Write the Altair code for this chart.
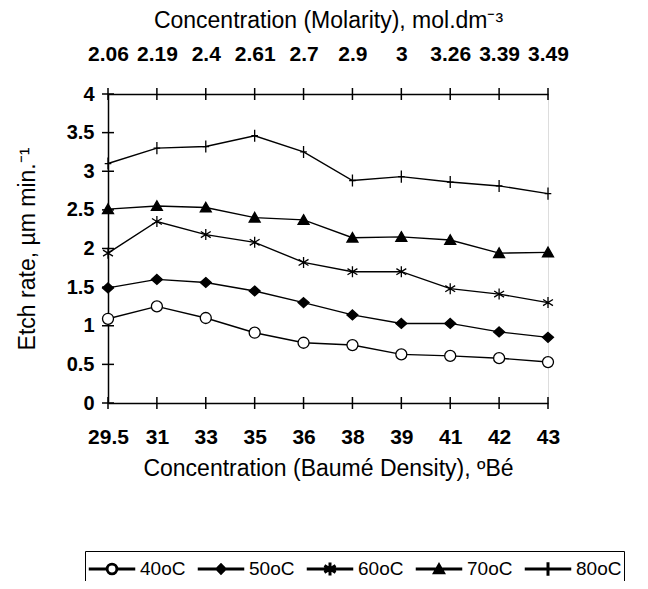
import json
import math
import altair as alt
import pandas as pd

FONT = "Liberation Sans"

# ---- data ----
baume = ["29.5", "31", "33", "35", "36", "38", "39", "41", "42", "43"]
molarity = ["2.06", "2.19", "2.4", "2.61", "2.7", "2.9", "3", "3.26", "3.39", "3.49"]
series = ["40oC", "50oC", "60oC", "70oC", "80oC"]
rate_40 = [1.09, 1.25, 1.10, 0.91, 0.78, 0.75, 0.63, 0.61, 0.58, 0.53]
rate_50 = [1.49, 1.60, 1.56, 1.45, 1.30, 1.14, 1.03, 1.03, 0.92, 0.85]
rate_60 = [1.94, 2.35, 2.18, 2.08, 1.82, 1.70, 1.70, 1.48, 1.41, 1.30]
rate_70 = [2.51, 2.55, 2.53, 2.40, 2.37, 2.14, 2.15, 2.11, 1.94, 1.95]
rate_80 = [3.10, 3.30, 3.32, 3.46, 3.25, 2.88, 2.93, 2.86, 2.81, 2.71]
y_ticks = [0, 0.5, 1, 1.5, 2, 2.5, 3, 3.5, 4]

rows = []
for name, vals in zip(series, [rate_40, rate_50, rate_60, rate_70, rate_80]):
    for b, v in zip(baume, vals):
        rows.append({"x": b, "v": v, "series": name})
df = pd.DataFrame(rows)

bottom_ticks = pd.DataFrame({"x": baume, "v": [y_ticks[0]] * len(baume)})
top_ticks = pd.DataFrame({"x": baume, "v": [y_ticks[-1]] * len(baume)})
left_ticks = pd.DataFrame({"x": [baume[0]] * len(y_ticks), "v": y_ticks})


# ---- marker / legend symbol styles (SVG paths in symbol units) ----
def poly(pts):
    area = sum(pts[i][0] * pts[(i + 1) % len(pts)][1] - pts[(i + 1) % len(pts)][0] * pts[i][1]
               for i in range(len(pts)))
    if area > 0:
        pts = pts[::-1]
    return "M" + "L".join(f"{x:.3f},{y:.3f}" for x, y in pts) + "Z"


def bar(x1, y1, x2, y2, h):
    dx, dy = x2 - x1, y2 - y1
    n = math.hypot(dx, dy)
    nx, ny = -dy / n * h, dx / n * h
    return poly([(x1 + nx, y1 + ny), (x2 + nx, y2 + ny), (x2 - nx, y2 - ny), (x1 - nx, y1 - ny)])


L, H = 1.5, 0.05          # legend line half-length and half-thickness
R, RI = 0.37, 0.28        # legend circle radii
ring = (f"M{R},0A{R},{R},0,1,1,{-R},0A{R},{R},0,1,1,{R},0Z"
        f"M{RI},0A{RI},{RI},0,1,0,{-RI},0A{RI},{RI},0,1,0,{RI},0Z")
legend_shapes = [
    bar(-L, 0, -R, 0, H) + bar(R, 0, L, 0, H) + ring,
    bar(-L, 0, -0.34, 0, H) + bar(0.34, 0, L, 0, H)
    + poly([(0, -0.34), (0.34, 0), (0, 0.34), (-0.34, 0)]),
    bar(-L, 0, L, 0, H) + bar(0, -0.38, 0, 0.38, H)
    + bar(-0.33, -0.2, 0.33, 0.2, H) + bar(-0.33, 0.2, 0.33, -0.2, H),
    bar(-L, 0, L, 0, H) + poly([(0, -0.36), (0.38, 0.3), (-0.38, 0.3)]),
    bar(-L, 0, L, 0, H) + bar(0, -0.4, 0, 0.4, H),
]
marker_shapes = [
    "circle",
    "M0,-0.9L1,0L0,0.9L-1,0Z",
    "M0,-1V1M-0.9,-0.55L0.9,0.55M-0.9,0.55L0.9,-0.55",
    "M0,-0.95L1,0.8L-1,0.8Z",
    "M0,-1.1V1.1M-0.6,0H0.6",
]
marker_fills = ["white", "black", "black", "black", "black"]

x_scale = alt.Scale(type="point", domain=baume, padding=0)
y_scale = alt.Scale(domain=[y_ticks[0], y_ticks[-1]], nice=False, zero=True)

common_axis = dict(
    ticks=False, tickSize=0, domainColor="black", domainWidth=1.5, grid=False,
    labelColor="black", titleColor="black", labelFont=FONT, titleFont=FONT,
    labelFontWeight="bold", titleFontWeight="normal",
)

bottom_axis = alt.Axis(
    orient="bottom", title="Concentration (Baumé Density), ºBé", labelAngle=0,
    labelFontSize=21, labelPadding=23, titleFontSize=23, titlePadding=10, **common_axis,
)
label_expr = "{}[indexof({}, datum.label)]".format(json.dumps(molarity), json.dumps(baume))
top_axis = alt.Axis(
    orient="top", title="Concentration (Molarity), mol.dm⁻³", labelAngle=0,
    labelExpr=label_expr, labelFontSize=21, labelPadding=30, titleFontSize=23,
    titlePadding=11, **common_axis,
)
y_axis = alt.Axis(
    values=y_ticks, format="~g", title="Etch rate, µm min.⁻¹", labelFontSize=20,
    labelPadding=14, titleFontSize=23, titlePadding=27, **common_axis,
)


def X(axis):
    return alt.X("x:N", scale=x_scale, axis=axis)


Y = alt.Y("v:Q", scale=y_scale, axis=y_axis)

lines = alt.Chart(df).mark_line(color="black", strokeWidth=1.4).encode(
    x=X(bottom_axis), y=Y, detail="series:N"
)

points = alt.Chart(df).mark_point(opacity=1, stroke="black", strokeWidth=1.3, size=121).encode(
    x=X(None), y=Y,
    shape=alt.Shape("series:N", scale=alt.Scale(domain=series, range=marker_shapes), legend=None),
    fill=alt.Fill("series:N", scale=alt.Scale(domain=series, range=marker_fills), legend=None),
)

legend_layer = alt.Chart(df).transform_filter("false").mark_point(
    opacity=1, fill="black", stroke="black", strokeWidth=1, size=900
).encode(
    x=X(None), y=Y,
    shape=alt.Shape(
        "series:N",
        scale=alt.Scale(domain=series, range=legend_shapes),
        legend=alt.Legend(
            orient="none", legendX=-23, legendY=457, direction="horizontal", columns=5,
            title=None, strokeColor="black", padding=2, symbolSize=900,
            symbolFillColor="black", symbolOpacity=1, symbolOffset=9,
            labelFontSize=19, labelFont=FONT, labelColor="black",
            labelOffset=12, columnPadding=9,
        ),
    ),
)

tick_bottom = alt.Chart(bottom_ticks).mark_tick(
    orient="vertical", size=12, thickness=1.5, color="black", opacity=1
).encode(x=X(None), y=Y)
tick_top = alt.Chart(top_ticks).mark_tick(
    orient="vertical", size=12, thickness=1.5, color="black", opacity=1
).encode(x=X(top_axis), y=Y)
tick_left = alt.Chart(left_ticks).mark_tick(
    orient="horizontal", size=12, thickness=1.5, color="black", opacity=1
).encode(x=X(None), y=Y)

chart = (
    alt.layer(lines, tick_bottom, tick_top, tick_left, points, legend_layer)
    .resolve_scale(shape="independent")
    .resolve_axis(x="independent")
    .properties(
        width=440, height=309,
        autosize=alt.AutoSizeParams(type="none"),
        padding={"left": 100, "top": 86, "right": 92, "bottom": 178},
    )
    .configure_view(stroke="black", strokeWidth=1.5)
    .configure(font=FONT, background="white")
)

chart.save("out.html", embed_options={"renderer": "svg", "actions": False})
